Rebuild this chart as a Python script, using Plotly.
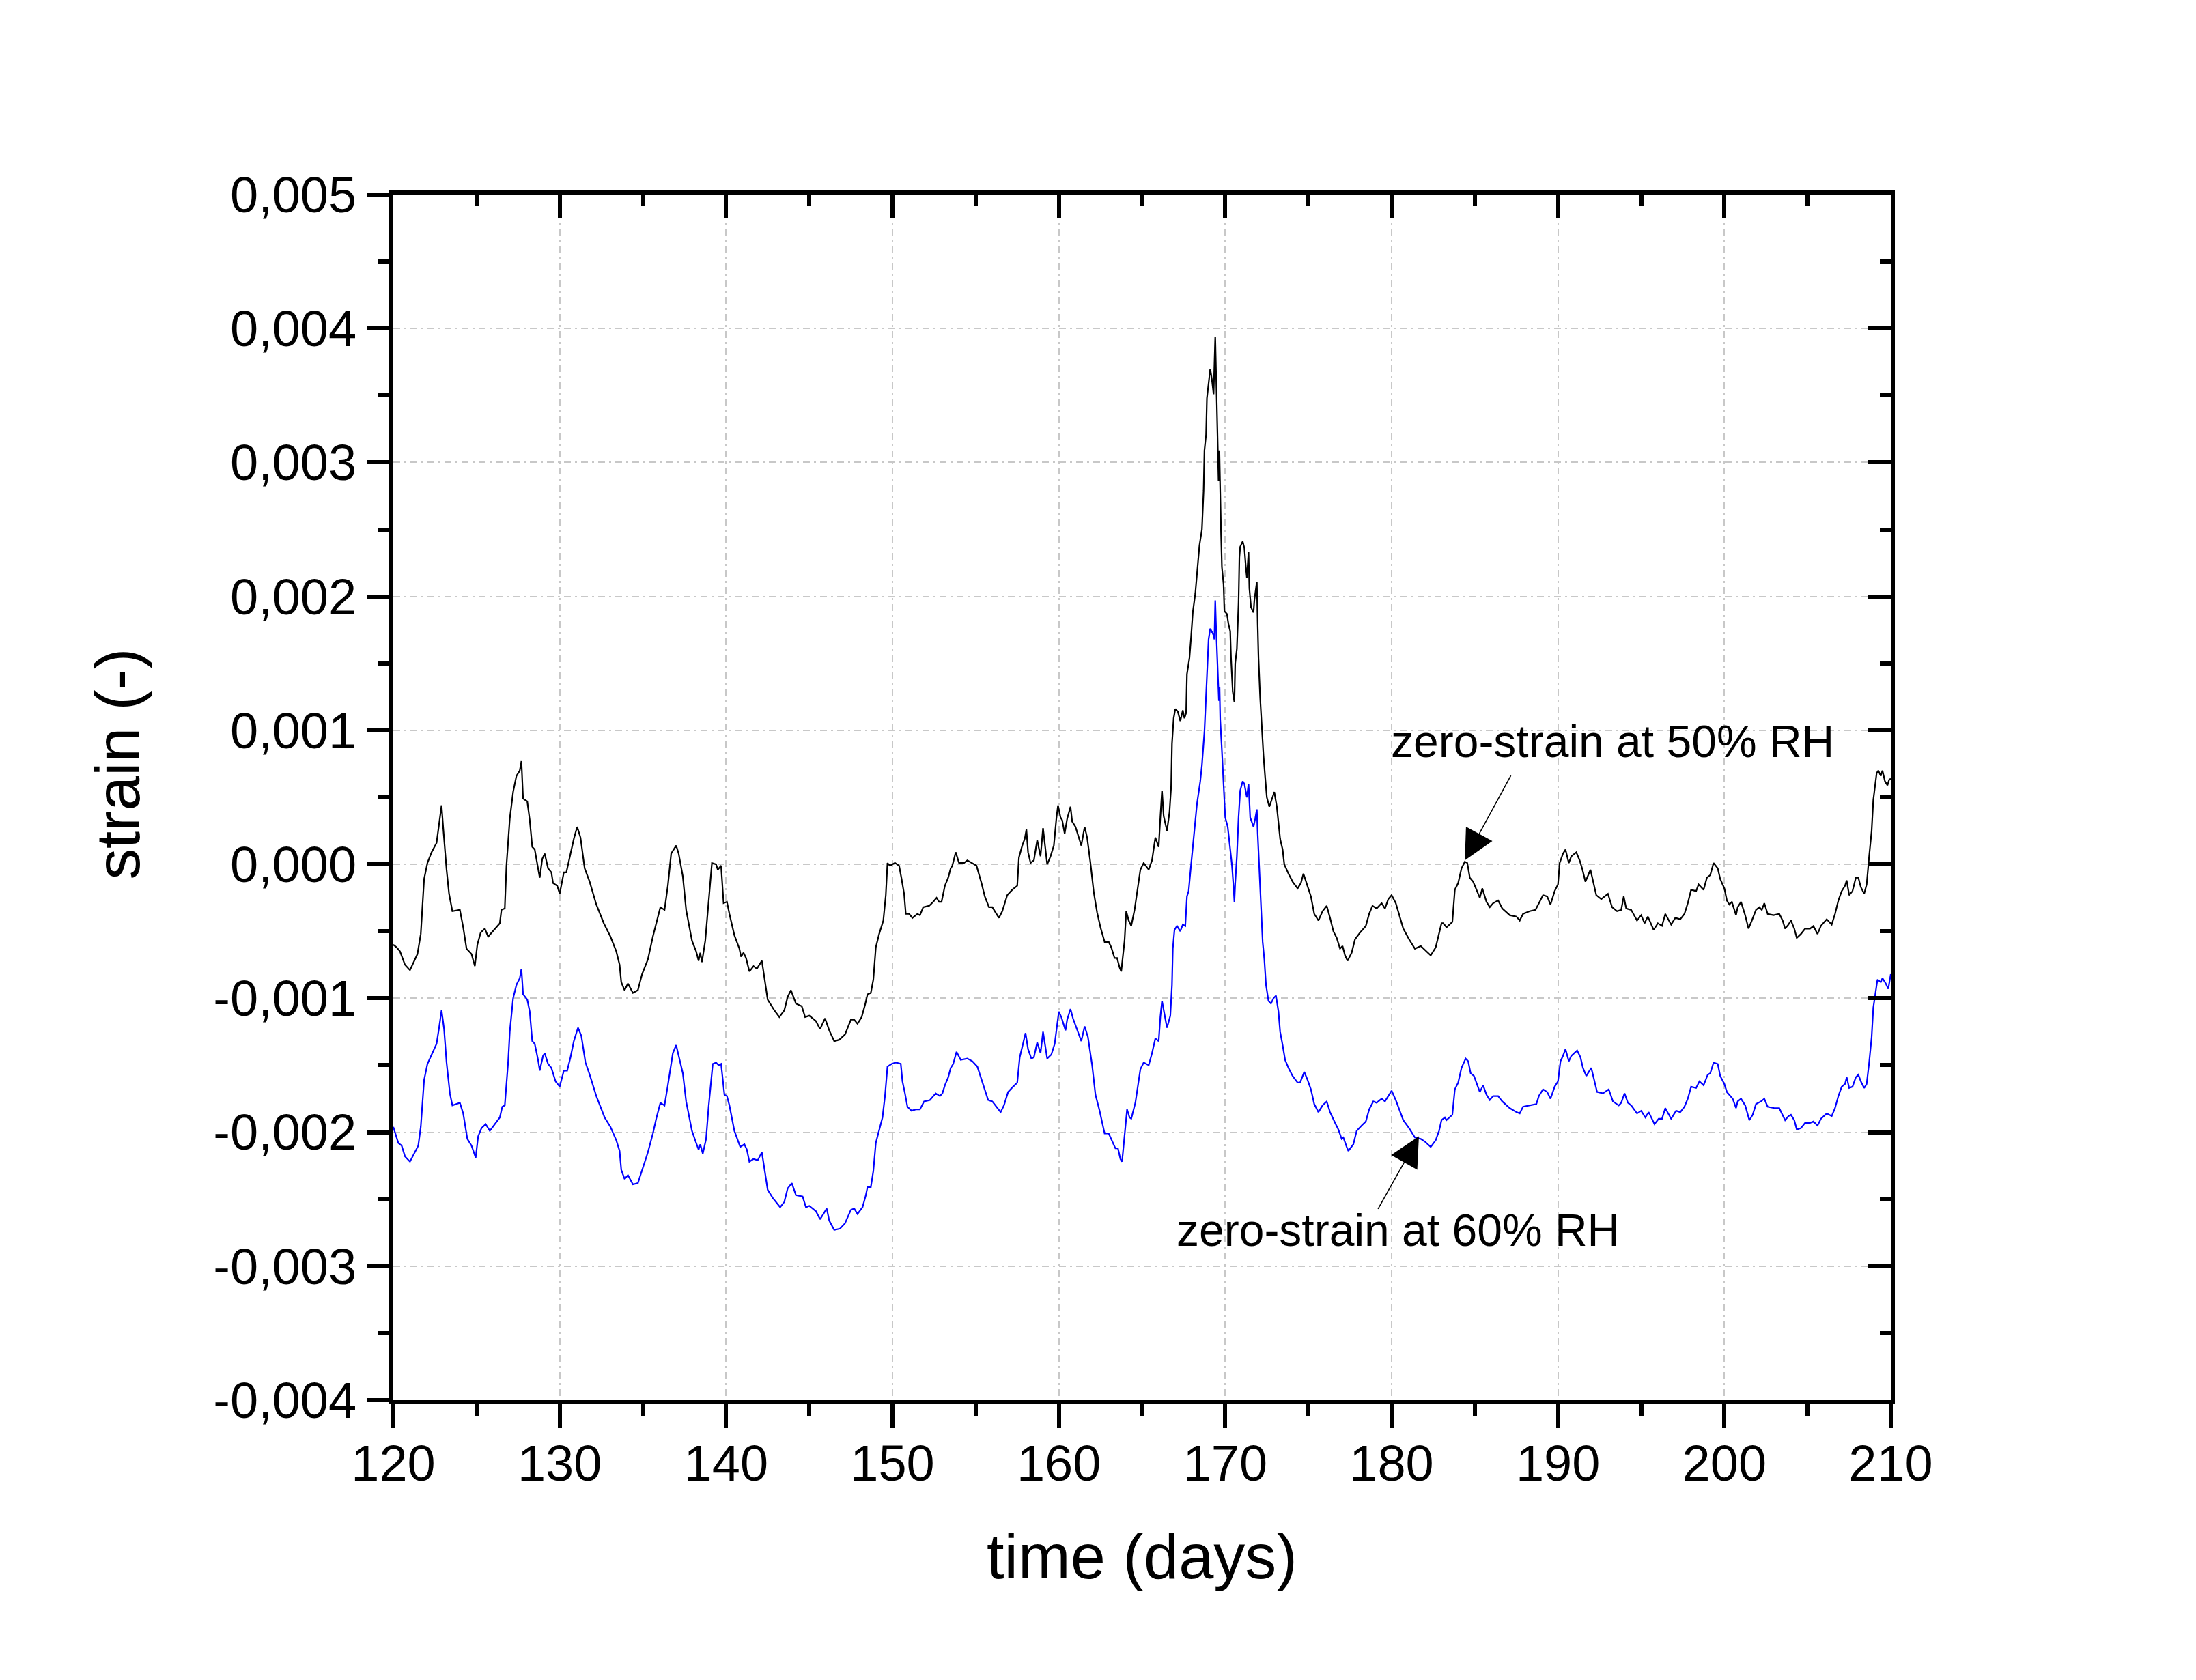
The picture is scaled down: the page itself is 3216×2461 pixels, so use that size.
import plotly.graph_objects as go

# ---------------- data ----------------
days_50 = [120.0, 120.2, 120.4, 120.7, 121.0, 121.45, 121.65, 121.85, 122.05, 122.3, 122.6, 122.75, 122.9, 123.0,
           123.2, 123.35, 123.55, 124.0, 124.2, 124.4, 124.7, 124.9, 125.05, 125.25, 125.5, 125.7, 126.1, 126.4,
           126.5, 126.7, 126.8, 127.0, 127.2, 127.4, 127.6, 127.7, 127.8, 128.05, 128.2, 128.35, 128.5, 128.7,
           128.8, 128.95, 129.1, 129.3, 129.5, 129.6, 129.85, 130.0, 130.25, 130.4, 130.65, 130.85, 131.05, 131.25,
           131.5, 131.8, 132.2, 132.65, 133.05, 133.4, 133.6, 133.7, 133.9, 134.1, 134.4, 134.7, 134.95, 135.3,
           135.6, 135.8, 136.05, 136.3, 136.5, 136.7, 137.0, 137.15, 137.4, 137.6, 137.95, 138.2, 138.35, 138.45,
           138.55, 138.75, 138.95, 139.15, 139.4, 139.5, 139.7, 139.85, 140.05, 140.2, 140.5, 140.8, 140.9, 141.05,
           141.2, 141.4, 141.65, 141.85, 142.15, 142.35, 142.5, 142.9, 143.2, 143.5, 143.7, 143.9, 144.2, 144.55,
           144.75, 145.0, 145.4, 145.65, 145.95, 146.2, 146.5, 146.8, 147.15, 147.5, 147.7, 147.9, 148.15, 148.35,
           148.5, 148.7, 148.85, 149.0, 149.2, 149.45, 149.6, 149.7, 149.85, 150.15, 150.4, 150.55, 150.7, 150.8,
           151.0, 151.2, 151.5, 151.65, 151.85, 152.2, 152.45, 152.65, 152.8, 152.95, 153.15, 153.35, 153.5, 153.6,
           153.8, 154.0, 154.3, 154.5, 154.8, 155.05, 155.35, 155.55, 155.8, 156.0, 156.4, 156.6, 156.9, 157.2,
           157.5, 157.6, 157.8, 157.95, 158.05, 158.15, 158.3, 158.5, 158.7, 158.9, 159.05, 159.3, 159.5, 159.7,
           159.85, 159.95, 160.1, 160.2, 160.35, 160.5, 160.7, 160.8, 161.0, 161.35, 161.55, 161.7, 161.9, 162.1,
           162.3, 162.5, 162.75, 163.0, 163.15, 163.35, 163.5, 163.65, 163.75, 163.95, 164.05, 164.2, 164.35, 164.55,
           164.9, 165.1, 165.4, 165.6, 165.8, 166.0, 166.1, 166.2, 166.3, 166.5, 166.65, 166.75, 166.8, 166.9,
           167.0, 167.15, 167.3, 167.45, 167.55, 167.65, 167.7, 167.85, 167.95, 168.05, 168.2, 168.3, 168.45, 168.6,
           168.7, 168.75, 168.85, 168.9, 169.0, 169.1, 169.2, 169.3, 169.4, 169.45, 169.5, 169.55, 169.6, 169.65,
           169.7, 169.75, 169.8, 169.9, 169.95, 170.1, 170.2, 170.3, 170.35, 170.45, 170.55, 170.6, 170.7, 170.8,
           170.85, 170.9, 171.05, 171.15, 171.25, 171.3, 171.4, 171.45, 171.55, 171.7, 171.75, 171.9, 171.95, 172.0,
           172.1, 172.2, 172.3, 172.4, 172.5, 172.65, 172.8, 172.95, 173.1, 173.3, 173.45, 173.55, 173.8, 174.05,
           174.35, 174.55, 174.7, 174.95, 175.15, 175.35, 175.6, 175.85, 176.1, 176.3, 176.5, 176.7, 176.9, 177.05,
           177.2, 177.35, 177.6, 177.8, 178.1, 178.45, 178.65, 178.85, 179.1, 179.4, 179.6, 179.8, 180.0, 180.25,
           180.45, 180.7, 181.05, 181.4, 181.75, 182.0, 182.35, 182.65, 182.85, 183.0, 183.1, 183.3, 183.65, 183.8,
           184.0, 184.2, 184.4, 184.55, 184.7, 184.9, 185.3, 185.45, 185.7, 185.9, 186.1, 186.4, 186.65, 187.1,
           187.5, 187.7, 187.9, 188.3, 188.65, 188.85, 189.1, 189.35, 189.55, 189.8, 190.0, 190.1, 190.3, 190.45,
           190.65, 190.8, 191.1, 191.3, 191.45, 191.65, 191.95, 192.3, 192.6, 193.0, 193.25, 193.55, 193.8, 193.95,
           194.1, 194.4, 194.75, 195.0, 195.2, 195.4, 195.75, 196.0, 196.25, 196.45, 196.8, 197.05, 197.35, 197.6,
           197.8, 198.0, 198.3, 198.45, 198.75, 198.95, 199.15, 199.35, 199.6, 199.75, 200.0, 200.15, 200.3, 200.45,
           200.7, 200.8, 201.0, 201.25, 201.45, 201.65, 201.9, 202.1, 202.25, 202.4, 202.6, 202.95, 203.3, 203.5,
           203.65, 203.85, 204.0, 204.2, 204.35, 204.6, 204.85, 205.15, 205.35, 205.6, 205.8, 206.15, 206.45, 206.65,
           206.85, 207.05, 207.25, 207.35, 207.5, 207.7, 207.9, 208.05, 208.2, 208.4, 208.55, 208.7, 208.85, 208.95,
           209.15, 209.25, 209.4, 209.5, 209.65, 209.8, 209.9, 210.0]
strain_50 = [-0.0006, -0.00062, -0.00065, -0.00075, -0.00079, -0.00067, -0.00052, -0.00011, 0.00001, 0.00009, 0.00016, 0.0003, 0.00044, 0.00027,
             -0.00004, -0.00022, -0.00035, -0.00034, -0.00047, -0.00063, -0.00067, -0.00076, -0.0006, -0.00051, -0.00048, -0.00054, -0.00048, -0.00044,
             -0.00034, -0.00033, -0.00001, 0.00034, 0.00054, 0.00066, 0.0007, 0.00077, 0.00049, 0.00047, 0.00033, 0.00013, 0.00011, -0.00003,
             -0.0001, 0.00004, 0.00008, -0.00003, -0.00006, -0.00014, -0.00016, -0.00022, -0.00006, -0.00006, 0.00008, 0.00019, 0.00028, 0.0002,
             -0.00003, -0.00013, -0.0003, -0.00044, -0.00054, -0.00065, -0.00075, -0.00088, -0.00094, -0.00089, -0.00096, -0.00094, -0.00082, -0.00071,
             -0.00054, -0.00044, -0.00032, -0.00034, -0.00016, 0.00008, 0.00014, 0.00008, -0.00009, -0.00034, -0.00057, -0.00065, -0.00072, -0.00066,
             -0.00073, -0.00057, -0.00029, 0.00001, 0.0, -0.00004, -0.00001, -0.00029, -0.00028, -0.00037, -0.00053, -0.00063, -0.00069, -0.00066,
             -0.0007, -0.0008, -0.00076, -0.00078, -0.00072, -0.0009, -0.00101, -0.00109, -0.00114, -0.00109, -0.00099, -0.00094, -0.00104, -0.00106,
             -0.00114, -0.00113, -0.00117, -0.00123, -0.00115, -0.00124, -0.00132, -0.00131, -0.00127, -0.00116, -0.00116, -0.00119, -0.00114, -0.00105,
             -0.00097, -0.00096, -0.00086, -0.00062, -0.00052, -0.00042, -0.00023, 0.00001, -0.00001, 0.00001, -0.00001, -0.00011, -0.00022, -0.00037,
             -0.00037, -0.0004, -0.00037, -0.00038, -0.00032, -0.00031, -0.00028, -0.00025, -0.00028, -0.00028, -0.00016, -0.0001, -0.00003, -0.00001,
             0.00009, 0.00001, 0.00001, 0.00003, 0.00001, -0.00001, -0.00014, -0.00024, -0.00032, -0.00032, -0.0004, -0.00035, -0.00023, -0.00019,
             -0.00016, 0.00005, 0.00014, 0.00019, 0.00026, 0.00009, 0.00001, 0.00003, 0.00018, 0.00006, 0.00027, 0.0, 0.00006, 0.00014,
             0.00034, 0.00044, 0.00035, 0.00033, 0.00023, 0.00034, 0.00043, 0.00032, 0.00028, 0.00014, 0.00028, 0.0002, 0.00001, -0.00021,
             -0.00036, -0.00047, -0.00058, -0.00058, -0.00062, -0.0007, -0.0007, -0.00077, -0.0008, -0.00057, -0.00035, -0.00042, -0.00046, -0.00034,
             -0.00004, 0.00001, -0.00004, 0.00003, 0.0002, 0.00013, 0.00035, 0.00055, 0.00036, 0.00025, 0.00039, 0.00058, 0.0009, 0.00109,
             0.00116, 0.00114, 0.00107, 0.00115, 0.00109, 0.00113, 0.00142, 0.00154, 0.0017, 0.00188, 0.00202, 0.00218, 0.00238, 0.0025,
             0.00279, 0.00309, 0.00321, 0.00348, 0.0036, 0.0037, 0.00362, 0.00351, 0.00394, 0.00369, 0.00339, 0.00305, 0.00286, 0.00309,
             0.0027, 0.00247, 0.00222, 0.00209, 0.00189, 0.00187, 0.00179, 0.00174, 0.00154, 0.00129, 0.00121, 0.0015, 0.00161, 0.00195,
             0.00229, 0.00237, 0.00241, 0.00236, 0.0022, 0.00214, 0.00233, 0.00206, 0.00192, 0.00188, 0.00197, 0.00211, 0.00179, 0.00154,
             0.00124, 0.00101, 0.00081, 0.00065, 0.0005, 0.00043, 0.00049, 0.00054, 0.00043, 0.00019, 0.00011, 0.0, -0.00007, -0.00013,
             -0.00018, -0.00014, -0.00007, -0.00017, -0.00024, -0.00037, -0.00042, -0.00035, -0.00031, -0.0004, -0.0005, -0.00055, -0.00063, -0.00061,
             -0.00068, -0.00072, -0.00066, -0.00056, -0.00051, -0.00046, -0.00037, -0.00031, -0.00033, -0.00029, -0.00033, -0.00026, -0.00023, -0.00029,
             -0.00037, -0.00048, -0.00056, -0.00063, -0.00061, -0.00064, -0.00068, -0.00062, -0.00052, -0.00044, -0.00044, -0.00047, -0.00043, -0.00019,
             -0.00014, -0.00003, 0.00002, 0.00001, -0.0001, -0.00013, -0.00025, -0.00018, -0.00028, -0.00032, -0.00029, -0.00027, -0.00033, -0.00038,
             -0.00039, -0.00042, -0.00037, -0.00035, -0.00034, -0.00029, -0.00023, -0.00024, -0.0003, -0.0002, -0.00015, 0.00001, 0.00008, 0.00011,
             0.00001, 0.00006, 0.00009, 0.00003, -0.00003, -0.00013, -0.00004, -0.00023, -0.00026, -0.00022, -0.00032, -0.00035, -0.00034, -0.00024,
             -0.00033, -0.00034, -0.00042, -0.00038, -0.00044, -0.00039, -0.00049, -0.00044, -0.00046, -0.00037, -0.00045, -0.0004, -0.00041, -0.00037,
             -0.00029, -0.00019, -0.0002, -0.00015, -0.00019, -0.0001, -0.00008, 0.00001, -0.00003, -0.00011, -0.00018, -0.00027, -0.0003, -0.00028,
             -0.00038, -0.00032, -0.00028, -0.00038, -0.00048, -0.00042, -0.00034, -0.00032, -0.00034, -0.00029, -0.00037, -0.00038, -0.00037, -0.00042,
             -0.00048, -0.00045, -0.00042, -0.00048, -0.00055, -0.00052, -0.00048, -0.00048, -0.00046, -0.00052, -0.00046, -0.00041, -0.00045, -0.00037,
             -0.00027, -0.0002, -0.00016, -0.00012, -0.00023, -0.0002, -0.0001, -0.0001, -0.00017, -0.00022, -0.00015, 0.00006, 0.00025, 0.00048,
             0.00068, 0.0007, 0.00066, 0.0007, 0.00062, 0.00059, 0.00063, 0.00064]

days_60 = [120.0, 120.3, 120.5, 120.7, 121.0, 121.5, 121.65, 121.85, 122.05, 122.3, 122.6, 122.75, 122.9, 123.05,
           123.2, 123.4, 123.55, 124.0, 124.2, 124.45, 124.7, 124.95, 125.1, 125.3, 125.55, 125.8, 126.1, 126.4,
           126.55, 126.7, 126.9, 127.0, 127.2, 127.4, 127.6, 127.7, 127.8, 128.05, 128.2, 128.35, 128.5, 128.7,
           128.8, 129.0, 129.1, 129.3, 129.5, 129.75, 130.0, 130.25, 130.45, 130.65, 130.85, 131.1, 131.3, 131.55,
           131.8, 132.2, 132.7, 133.05, 133.4, 133.6, 133.7, 133.9, 134.1, 134.4, 134.7, 134.95, 135.3, 135.6,
           135.8, 136.05, 136.3, 136.5, 136.8, 137.0, 137.2, 137.4, 137.6, 137.95, 138.2, 138.35, 138.45, 138.6,
           138.8, 138.95, 139.2, 139.4, 139.55, 139.7, 139.9, 140.05, 140.2, 140.5, 140.85, 141.1, 141.25, 141.4,
           141.65, 141.9, 142.15, 142.35, 142.5, 142.8, 143.25, 143.5, 143.7, 143.95, 144.2, 144.6, 144.8, 145.0,
           145.4, 145.65, 146.05, 146.2, 146.5, 146.85, 147.15, 147.5, 147.7, 147.9, 148.2, 148.4, 148.5, 148.7,
           148.85, 149.0, 149.2, 149.4, 149.55, 149.7, 149.95, 150.2, 150.5, 150.6, 150.75, 150.9, 151.15, 151.4,
           151.65, 151.9, 152.25, 152.6, 152.85, 153.0, 153.15, 153.35, 153.5, 153.65, 153.85, 154.1, 154.5, 154.8,
           155.1, 155.4, 155.75, 156.0, 156.5, 156.7, 156.95, 157.25, 157.5, 157.65, 157.85, 158.0, 158.15, 158.35,
           158.5, 158.7, 158.9, 159.05, 159.3, 159.55, 159.75, 159.9, 160.0, 160.15, 160.4, 160.5, 160.7, 160.85,
           161.0, 161.35, 161.55, 161.75, 162.0, 162.2, 162.45, 162.75, 163.0, 163.25, 163.4, 163.55, 163.7, 163.8,
           163.95, 164.1, 164.25, 164.35, 164.6, 164.9, 165.1, 165.4, 165.6, 165.8, 166.0, 166.1, 166.2, 166.35,
           166.5, 166.7, 166.8, 166.85, 166.95, 167.1, 167.3, 167.45, 167.6, 167.7, 167.8, 167.95, 168.05, 168.2,
           168.3, 168.5, 168.6, 168.75, 168.85, 168.95, 169.0, 169.1, 169.3, 169.35, 169.4, 169.45, 169.5, 169.6,
           169.62, 169.66, 169.7, 169.8, 169.9, 170.0, 170.15, 170.25, 170.4, 170.5, 170.55, 170.6, 170.7, 170.8,
           170.9, 171.05, 171.15, 171.3, 171.4, 171.5, 171.7, 171.8, 171.9, 171.95, 172.05, 172.15, 172.25, 172.35,
           172.45, 172.6, 172.75, 172.9, 173.05, 173.2, 173.3, 173.45, 173.6, 173.8, 174.05, 174.35, 174.5, 174.75,
           174.95, 175.15, 175.35, 175.6, 175.85, 176.1, 176.3, 176.6, 176.8, 177.0, 177.1, 177.3, 177.4, 177.7,
           177.9, 178.2, 178.45, 178.65, 178.9, 179.1, 179.4, 179.6, 179.85, 180.0, 180.25, 180.5, 180.7, 181.05,
           181.4, 181.75, 182.0, 182.35, 182.65, 182.85, 183.0, 183.2, 183.3, 183.65, 183.8, 184.0, 184.2, 184.45,
           184.6, 184.75, 184.95, 185.3, 185.5, 185.7, 185.9, 186.1, 186.4, 186.65, 187.1, 187.5, 187.7, 187.9,
           188.3, 188.7, 188.85, 189.1, 189.35, 189.55, 189.8, 190.0, 190.15, 190.3, 190.45, 190.65, 190.8, 191.15,
           191.35, 191.5, 191.7, 192.0, 192.35, 192.7, 193.05, 193.3, 193.65, 193.8, 194.0, 194.2, 194.4, 194.75,
           195.0, 195.25, 195.45, 195.8, 196.05, 196.25, 196.45, 196.8, 197.1, 197.35, 197.6, 197.8, 198.0, 198.3,
           198.5, 198.75, 199.0, 199.15, 199.35, 199.6, 199.75, 200.0, 200.15, 200.35, 200.5, 200.7, 200.8, 201.0,
           201.25, 201.5, 201.7, 201.9, 202.2, 202.4, 202.6, 203.0, 203.3, 203.45, 203.65, 203.85, 204.0, 204.2,
           204.35, 204.6, 204.85, 205.15, 205.35, 205.6, 205.8, 206.15, 206.45, 206.65, 206.85, 207.05, 207.25, 207.35,
           207.5, 207.7, 207.9, 208.05, 208.2, 208.4, 208.55, 208.7, 208.85, 208.95, 209.1, 209.2, 209.4, 209.5,
           209.7, 209.85, 210.0]
strain_60 = [-0.00196, -0.00208, -0.0021, -0.00218, -0.00222, -0.0021, -0.00196, -0.00161, -0.00149, -0.00142, -0.00134, -0.00122, -0.00109, -0.00123,
             -0.00148, -0.00171, -0.0018, -0.00178, -0.00186, -0.00205, -0.0021, -0.00219, -0.00203, -0.00197, -0.00194, -0.00199, -0.00194, -0.00189,
             -0.00181, -0.0018, -0.00148, -0.00125, -0.001, -0.0009, -0.00085, -0.00078, -0.00097, -0.00101, -0.0011, -0.00132, -0.00134, -0.00146,
             -0.00154, -0.00143, -0.00141, -0.00149, -0.00152, -0.00162, -0.00166, -0.00154, -0.00154, -0.00144, -0.00132, -0.00122, -0.00128, -0.00148,
             -0.00157, -0.00173, -0.00189, -0.00196, -0.00206, -0.00214, -0.00228, -0.00235, -0.00232, -0.00239, -0.00238, -0.00228, -0.00215, -0.00201,
             -0.0019, -0.00178, -0.0018, -0.00165, -0.00141, -0.00135, -0.00146, -0.00156, -0.00177, -0.00199, -0.00208, -0.00213, -0.00209, -0.00216,
             -0.00205, -0.00181, -0.00149, -0.00148, -0.0015, -0.00149, -0.00172, -0.00173, -0.0018, -0.00199, -0.00211, -0.00209, -0.00213, -0.00222,
             -0.0022, -0.00221, -0.00215, -0.00232, -0.00243, -0.00249, -0.00256, -0.00252, -0.00242, -0.00238, -0.00247, -0.00248, -0.00256, -0.00255,
             -0.00259, -0.00265, -0.00257, -0.00266, -0.00273, -0.00272, -0.00268, -0.00258, -0.00257, -0.00261, -0.00256, -0.00247, -0.00241, -0.00241,
             -0.00229, -0.00208, -0.00199, -0.00189, -0.00173, -0.00151, -0.00149, -0.00148, -0.00149, -0.00162, -0.00171, -0.00181, -0.00184, -0.00183,
             -0.00183, -0.00177, -0.00176, -0.00171, -0.00173, -0.00171, -0.00165, -0.00159, -0.00152, -0.00149, -0.0014, -0.00146, -0.00145, -0.00147,
             -0.00151, -0.00163, -0.00176, -0.00177, -0.00185, -0.0018, -0.0017, -0.00166, -0.00163, -0.00144, -0.00134, -0.00126, -0.00138, -0.00145,
             -0.00144, -0.00133, -0.00141, -0.00125, -0.00145, -0.00142, -0.00134, -0.0012, -0.0011, -0.00114, -0.00124, -0.00116, -0.00108, -0.00115,
             -0.0012, -0.00132, -0.00121, -0.00129, -0.0015, -0.00172, -0.00184, -0.00201, -0.00201, -0.00208, -0.00212, -0.00212, -0.0022, -0.00222,
             -0.00203, -0.00183, -0.00189, -0.0019, -0.00178, -0.00153, -0.00148, -0.0015, -0.00141, -0.0013, -0.00132, -0.00114, -0.00102, -0.00113,
             -0.00122, -0.00113, -0.0009, -0.00063, -0.00049, -0.00046, -0.0005, -0.00045, -0.00046, -0.00024, -0.0002, 0.0, 0.00013, 0.00029,
             0.00045, 0.00062, 0.00074, 0.00099, 0.00129, 0.00154, 0.00168, 0.00176, 0.00171, 0.00168, 0.00197, 0.00177, 0.00159, 0.00134,
             0.00122, 0.00132, 0.00108, 0.00085, 0.0006, 0.00035, 0.00028, 0.00018, 0.0, -0.00017, -0.00028, -0.00014, 0.00006, 0.00035,
             0.00055, 0.00062, 0.0006, 0.0005, 0.0006, 0.00035, 0.00028, 0.00034, 0.00041, 0.00023, -0.00004, -0.00034, -0.00058, -0.00071,
             -0.0009, -0.00102, -0.00104, -0.001, -0.00098, -0.0011, -0.00125, -0.00135, -0.00146, -0.00152, -0.00158, -0.00163, -0.00163, -0.00155,
             -0.00161, -0.00168, -0.00179, -0.00185, -0.0018, -0.00177, -0.00185, -0.00193, -0.00198, -0.00205, -0.00204, -0.00211, -0.00214, -0.00209,
             -0.00199, -0.00195, -0.00192, -0.00183, -0.00177, -0.00178, -0.00175, -0.00177, -0.00172, -0.00169, -0.00176, -0.00184, -0.00191, -0.00197,
             -0.00204, -0.00205, -0.00207, -0.00211, -0.00206, -0.00199, -0.00191, -0.00189, -0.00191, -0.00187, -0.00168, -0.00163, -0.00152, -0.00145,
             -0.00147, -0.00156, -0.00158, -0.0017, -0.00165, -0.00172, -0.00176, -0.00173, -0.00173, -0.00177, -0.00182, -0.00185, -0.00186, -0.00181,
             -0.0018, -0.00179, -0.00173, -0.00168, -0.0017, -0.00175, -0.00166, -0.00162, -0.00147, -0.00143, -0.00138, -0.00147, -0.00143, -0.00139,
             -0.00144, -0.00152, -0.00158, -0.00152, -0.0017, -0.00171, -0.00168, -0.00177, -0.0018, -0.00178, -0.00171, -0.00178, -0.0018, -0.00186,
             -0.00184, -0.00189, -0.00185, -0.00194, -0.0019, -0.0019, -0.00182, -0.0019, -0.00184, -0.00185, -0.00181, -0.00175, -0.00166, -0.00167,
             -0.00162, -0.00165, -0.00157, -0.00156, -0.00148, -0.00149, -0.00158, -0.00164, -0.0017, -0.00173, -0.00175, -0.00182, -0.00177, -0.00175,
             -0.0018, -0.00191, -0.00187, -0.00179, -0.00177, -0.00175, -0.00181, -0.00182, -0.00182, -0.00186, -0.00191, -0.00188, -0.00187, -0.00191,
             -0.00198, -0.00197, -0.00193, -0.00193, -0.00192, -0.00195, -0.0019, -0.00186, -0.00188, -0.00182, -0.00173, -0.00166, -0.00164, -0.00159,
             -0.00167, -0.00166, -0.00159, -0.00157, -0.00162, -0.00167, -0.00164, -0.00148, -0.00129, -0.00107, -0.00095, -0.00086, -0.00088, -0.00085,
             -0.00089, -0.00093, -0.00082]

x_tick_vals = [120, 130, 140, 150, 160, 170, 180, 190, 200, 210]
x_tick_text = ["120", "130", "140", "150", "160", "170", "180", "190", "200", "210"]
y_tick_vals = [0.005, 0.004, 0.003, 0.002, 0.001, 0.0, -0.001, -0.002, -0.003, -0.004]
y_tick_text = ["0,005", "0,004", "0,003", "0,002", "0,001", "0,000", "-0,001", "-0,002", "-0,003", "-0,004"]

x_title = "time (days)"
y_title = "strain (-)"
label_50 = "zero-strain at 50% RH"
label_60 = "zero-strain at 60% RH"
# annotation anchor points (arrow tip on the curve, arrow tail, label position)
arrow_50 = dict(tip=(184.4, 0.00003), tail=(187.2, 0.00067), text_at=(179.87, 0.00092))
arrow_60 = dict(tip=(181.64, -0.00203), tail=(179.15, -0.00258), text_at=(166.98, -0.00273))

# ---------------- figure ----------------
FONT = "Liberation Sans, Arial, sans-serif"
AXW = 6
GRID = "#c8c8c8"

fig = go.Figure()
fig.add_trace(go.Scatter(x=days_50, y=strain_50, mode="lines",
                         line=dict(color="black", width=2.2), showlegend=False))
fig.add_trace(go.Scatter(x=days_60, y=strain_60, mode="lines",
                         line=dict(color="#0000ff", width=2.2), showlegend=False))
# invisible trace to anchor the mirrored (top/right) axes
fig.add_trace(go.Scatter(x=days_50, y=strain_50, mode="lines", xaxis="x2", yaxis="y2",
                         line=dict(width=0), opacity=0, hoverinfo="skip", showlegend=False))

common_x = dict(range=[120, 210], tickmode="array", tickvals=x_tick_vals,
                showline=True, linewidth=AXW, linecolor="black",
                tickwidth=AXW, tickcolor="black", ticklen=35, zeroline=False)
common_y = dict(range=[-0.004, 0.005], tickmode="array", tickvals=y_tick_vals,
                showline=True, linewidth=AXW, linecolor="black",
                tickwidth=AXW, tickcolor="black", ticklen=33, zeroline=False)

# the page body adds an 8px margin, so the figure is 16px smaller than the window
fig.update_layout(
    width=3200, height=2445,
    paper_bgcolor="white", plot_bgcolor="white",
    margin=dict(l=568, r=439, t=277, b=402, autoexpand=False),
    font=dict(family=FONT, color="black"),
    xaxis=dict(**common_x, ticktext=x_tick_text, ticks="outside",
               tickfont=dict(size=74, family=FONT, color="black"),
               ticklabelstandoff=-12,
               showgrid=True, gridcolor=GRID, gridwidth=2, griddash="10px,6px,3px,6px",
               minor=dict(ticks="outside", tick0=120, dtick=5, ticklen=17, tickwidth=AXW,
                          tickcolor="black", showgrid=False),
               title=dict(text=x_title, font=dict(size=92, family=FONT, color="black"),
                          standoff=66),
               automargin=False, anchor="y"),
    yaxis=dict(**common_y, ticktext=y_tick_text, ticks="outside",
               tickfont=dict(size=74, family=FONT, color="black"),
               showgrid=True, gridcolor=GRID, gridwidth=2, griddash="10px,6px,3px,6px",
               minor=dict(ticks="outside", tick0=0, dtick=0.0005, ticklen=16, tickwidth=AXW,
                          tickcolor="black", showgrid=False),
               automargin=False, anchor="x"),
    xaxis2=dict(**common_x, overlaying="x", side="top", anchor="y2", ticks="inside",
                showticklabels=False, showgrid=False,
                minor=dict(ticks="inside", tick0=120, dtick=5, ticklen=17, tickwidth=AXW,
                           tickcolor="black", showgrid=False)),
    yaxis2=dict(**common_y, overlaying="y", side="right", anchor="x2", ticks="inside",
                showticklabels=False, showgrid=False,
                minor=dict(ticks="inside", tick0=0, dtick=0.0005, ticklen=16, tickwidth=AXW,
                           tickcolor="black", showgrid=False)),
)

# y-axis title (placed slightly above the axis centre, as in the original)
fig.add_annotation(text=y_title, textangle=-90, xref="paper", yref="paper",
                   x=-0.1838, y=0.528, xanchor="center", yanchor="middle", showarrow=False,
                   font=dict(size=91, family=FONT, color="black"))

for spec, label in ((arrow_50, label_50), (arrow_60, label_60)):
    fig.add_annotation(x=spec["tip"][0], y=spec["tip"][1], ax=spec["tail"][0], ay=spec["tail"][1],
                       xref="x", yref="y", axref="x", ayref="y", text="", showarrow=True,
                       arrowhead=2, arrowwidth=1.6, arrowsize=5.5, arrowcolor="black", standoff=0)
    fig.add_annotation(x=spec["text_at"][0], y=spec["text_at"][1], xref="x", yref="y",
                       text=label, showarrow=False, xanchor="left", yanchor="middle",
                       font=dict(size=66, family=FONT, color="black"))

fig.write_html("out.html")
